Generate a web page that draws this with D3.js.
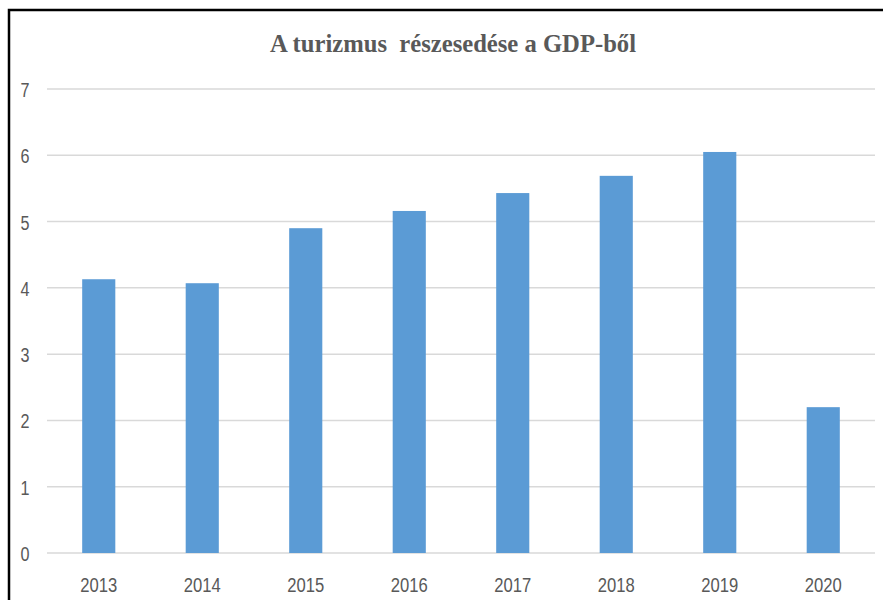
<!DOCTYPE html>
<html>
<head>
<meta charset="utf-8">
<script src="https://cdn.jsdelivr.net/npm/d3@7"></script>
<style>
  body { margin: 0; background: #fff; }
</style>
</head>
<body>
<script>
const years = ["2013", "2014", "2015", "2016", "2017", "2018", "2019", "2020"];
const shares = [4.13, 4.07, 4.9, 5.16, 5.43, 5.69, 6.05, 2.2];
const yTicks = [0, 1, 2, 3, 4, 5, 6, 7];

const width = 883;
const height = 600;
const margin = { top: 89, right: 8, bottom: 47, left: 47 };
const labelFont = "Liberation Sans, sans-serif";

const svg = d3.select("body").append("svg")
    .attr("width", width)
    .attr("height", height);

// chart frame (only top and left edges are visible)
svg.append("path")
    .attr("d", `M9,${height} V10 H${width}`)
    .attr("fill", "none")
    .attr("stroke", "#000")
    .attr("stroke-width", 2.5);

svg.append("text")
    .attr("x", 453)
    .attr("y", 52)
    .attr("text-anchor", "middle")
    .attr("font-family", "Liberation Serif, serif")
    .attr("font-weight", "bold")
    .attr("font-size", 26)
    .attr("fill", "#595959")
    .attr("textLength", 366)
    .attr("lengthAdjust", "spacingAndGlyphs")
    .style("white-space", "pre")
    .text("A turizmus  részesedése a GDP-ből");

const x = d3.scaleBand()
    .domain(years)
    .range([margin.left, width - margin.right])
    .paddingInner(0.68)
    .paddingOuter(0.34);

const y = d3.scaleLinear()
    .domain([0, 7])
    .range([height - margin.bottom, margin.top]);

// gridlines
svg.append("g")
    .selectAll("line")
    .data(yTicks)
    .join("line")
    .attr("x1", margin.left)
    .attr("x2", width - margin.right)
    .attr("y1", d => y(d))
    .attr("y2", d => y(d))
    .attr("stroke", "#d9d9d9")
    .attr("stroke-width", 1.5);

// y labels (narrow like Calibri)
svg.append("g")
    .attr("font-family", labelFont)
    .attr("font-size", 20)
    .attr("fill", "#595959")
    .selectAll("text")
    .data(yTicks)
    .join("text")
    .attr("x", 25)
    .attr("y", d => y(d) + 8)
    .attr("text-anchor", "middle")
    .attr("textLength", 9)
    .attr("lengthAdjust", "spacingAndGlyphs")
    .text(d => d);

svg.append("g")
    .attr("fill", "#5b9bd5")
    .selectAll("rect")
    .data(shares)
    .join("rect")
    .attr("x", (d, i) => x(years[i]))
    .attr("width", x.bandwidth())
    .attr("y", d => y(d))
    .attr("height", d => y(0) - y(d));

// x labels
svg.append("g")
    .attr("font-family", labelFont)
    .attr("font-size", 20)
    .attr("fill", "#595959")
    .selectAll("text")
    .data(years)
    .join("text")
    .attr("x", d => x(d) + x.bandwidth() / 2)
    .attr("y", 592)
    .attr("text-anchor", "middle")
    .attr("textLength", 37)
    .attr("lengthAdjust", "spacingAndGlyphs")
    .text(d => d);
</script>
</body>
</html>
